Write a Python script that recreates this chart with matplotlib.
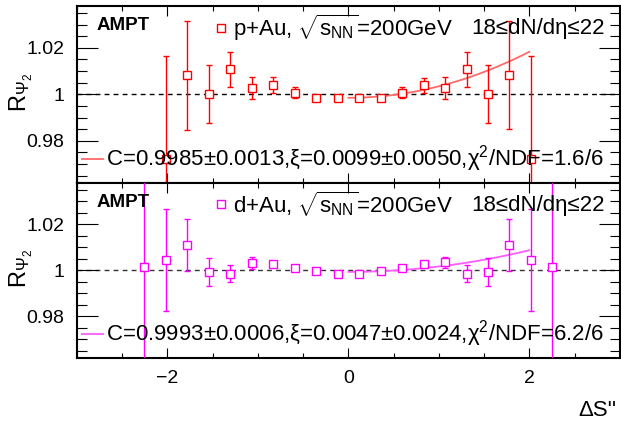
import numpy as np
import matplotlib
matplotlib.use('Agg')
import matplotlib.pyplot as plt
from matplotlib.ticker import MultipleLocator

plt.rcParams['font.family'] = ['Liberation Sans', 'DejaVu Sans']
plt.rcParams['mathtext.fontset'] = 'custom'
plt.rcParams['mathtext.rm'] = 'Liberation Sans'
plt.rcParams['mathtext.it'] = 'Liberation Sans'
plt.rcParams['mathtext.bf'] = 'Liberation Sans:bold'

# bin centres in dS''
ds = [-2.256, -2.019, -1.781, -1.544, -1.306, -1.069, -0.831, -0.594, -0.356, -0.119,
      0.119, 0.356, 0.594, 0.831, 1.069, 1.306, 1.544, 1.781, 2.019, 2.256]

# p+Au (no outermost bins)
pau_x = ds[1:-1]
pau_y = [0.9722, 1.0081, 1.0000, 1.0107, 1.0028, 1.0040, 1.0007, 0.9985, 0.9983,
         0.9983, 0.9986, 1.0007, 1.0039, 1.0028, 1.0107, 1.0000, 1.0083, 0.9722]
pau_err = [0.0442, 0.0233, 0.0125, 0.0076, 0.0048, 0.0034, 0.0024, 0.0010, 0.0008,
           0.0008, 0.0010, 0.0023, 0.0033, 0.0048, 0.0076, 0.0125, 0.0233, 0.0442]

# d+Au
dau_x = ds
dau_y = [1.0016, 1.0045, 1.0108, 0.9993, 0.9986, 1.0032, 1.0026, 1.0012, 0.9999, 0.9984,
         0.9984, 0.9999, 1.0012, 1.0026, 1.0034, 0.9986, 0.9993, 1.0108, 1.0045, 1.0016]
dau_err = [0.0600, 0.0221, 0.0113, 0.0062, 0.0037, 0.0025, 0.0012, 0.0008, 0.0006, 0.0005,
           0.0005, 0.0006, 0.0008, 0.0012, 0.0025, 0.0037, 0.0062, 0.0113, 0.0221, 0.0600]

# fit parameters
pau_fit = (0.9985, 0.0099)
dau_fit = (0.9993, 0.0047)

pau_label = r'C=0.9985$\pm$0.0013,ξ=0.0099$\pm$0.0050,χ$^2$/NDF=1.6/6'
dau_label = r'C=0.9993$\pm$0.0006,ξ=0.0047$\pm$0.0024,χ$^2$/NDF=6.2/6'

FS = 14      # tick labels
FT = 16      # panel texts

fig = plt.figure(figsize=(6.21, 4.21), dpi=100)
ax1 = fig.add_axes([0.124, 0.566, 0.874, 0.420])
ax2 = fig.add_axes([0.124, 0.150, 0.874, 0.416])


def draw_panel(ax, x, y, err, fit, col, fitcol, system, label, dashcol):
    ax.axhline(1.0, color=dashcol, lw=1.0, dashes=(3.5, 3), zorder=1)
    ax.errorbar(x, y, yerr=err, fmt='s', ms=6, mfc='white', mec=col, mew=1.0,
                ecolor=col, elinewidth=1.0, capsize=2.5, capthick=1.0, zorder=3)
    c, xi = fit
    xf = np.linspace(0, 2, 100)
    ax.plot(xf, c * (1 + xi * xf**2 / 2), color=fitcol, lw=1.3, zorder=2)

    ax.set_xlim(-3, 3)
    ax.set_ylim(0.962, 1.038)
    ax.xaxis.set_major_locator(MultipleLocator(2))
    ax.xaxis.set_minor_locator(MultipleLocator(0.5))
    ax.yaxis.set_minor_locator(MultipleLocator(0.005))
    ax.set_yticks([0.98, 1.0, 1.02])
    ax.set_yticklabels(['0.98', '1', '1.02'])
    ax.tick_params(axis='both', which='both', direction='in', top=True, right=True,
                   labelsize=FS, width=0.8)
    ax.tick_params(axis='y', which='major', length=15, pad=9)
    ax.tick_params(axis='y', which='minor', length=7.5)
    ax.tick_params(axis='x', which='major', length=7, pad=9)
    ax.tick_params(axis='x', which='minor', length=3.5)
    for s in ax.spines.values():
        s.set_linewidth(1.5)

    ax.text(0.036, 0.887, 'AMPT', transform=ax.transAxes, fontsize=13.5,
            fontweight='bold', ha='left', va='center')
    ax.plot([0.265], [0.876], 's', ms=6, mfc='white', mec=col, mew=1.0,
            transform=ax.transAxes, clip_on=False)
    ax.text(0.287, 0.876, system + r', $\sqrt{s_{\rm NN}}$=200GeV', transform=ax.transAxes,
            fontsize=FT, ha='left', va='center')
    ax.text(0.972, 0.872, '18≤dN/dη≤22', transform=ax.transAxes,
            fontsize=FT, ha='right', va='center')
    ax.plot([0.009, 0.048], [0.136, 0.136], color=fitcol, lw=1.3, transform=ax.transAxes)
    ax.text(0.053, 0.136, label, transform=ax.transAxes, fontsize=FT,
            ha='left', va='center', zorder=5)


draw_panel(ax1, pau_x, pau_y, pau_err, pau_fit, '#ff0000', '#ff6a6a', 'p+Au', pau_label, 'black')
draw_panel(ax2, dau_x, dau_y, dau_err, dau_fit, '#ff00ff', '#ff5cff', 'd+Au', dau_label, '#333333')

ax1.tick_params(axis='x', labelbottom=False)

fig.text(0.034, 1 - 92 / 421, r'R$_{\Psi_2}$', rotation=90, fontsize=17,
         ha='center', va='center')
fig.text(0.034, 1 - 268 / 421, r'R$_{\Psi_2}$', rotation=90, fontsize=17,
         ha='center', va='center')
fig.text(0.993, 1 - 410 / 421, "ΔS''", fontsize=16, ha='right', va='center')

fig.savefig('out.png', dpi=100)
